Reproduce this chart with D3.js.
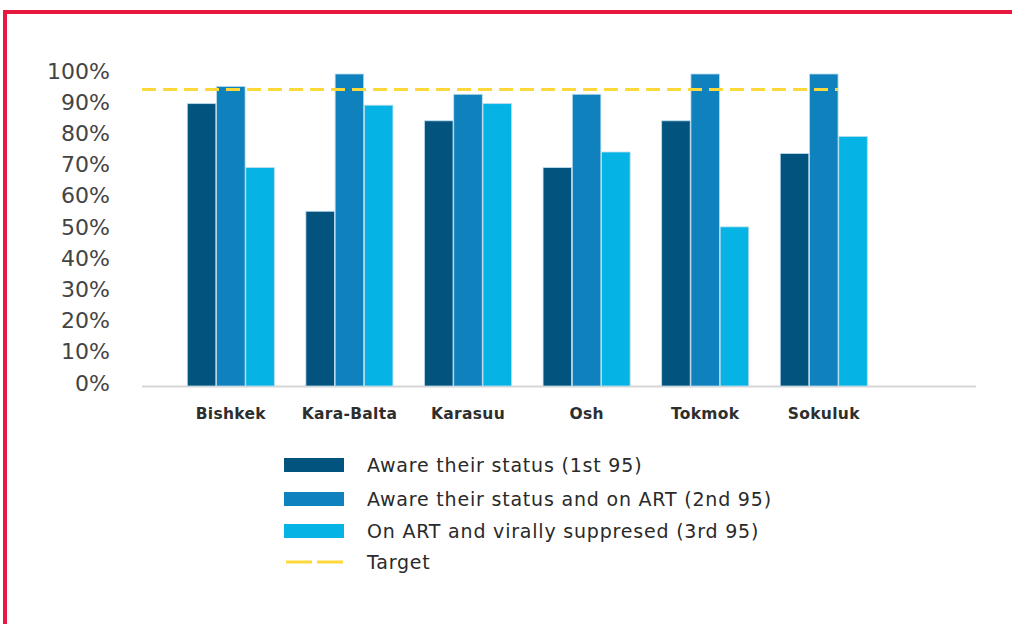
<!DOCTYPE html>
<html><head><meta charset="utf-8">
<script src="https://cdn.jsdelivr.net/npm/d3@7/dist/d3.min.js"></script>
<style>body{margin:0;background:#fff}svg{display:block}</style>
</head><body><svg id="c" width="1012" height="624"></svg>
<script>
const categories = ["Bishkek","Kara-Balta","Karasuu","Osh","Tokmok","Sokuluk"];
const seriesNames = ["Aware their status (1st 95)","Aware their status and on ART (2nd 95)","On ART and virally suppresed (3rd 95)"];
const first95  = [90.5, 56, 85, 70, 85, 74.5];
const second95 = [96, 100, 93.5, 93.5, 100, 100];
const third95  = [70, 90, 90.5, 75, 51, 80];
const target = 95;
const yTicks = [0,10,20,30,40,50,60,70,80,90,100];
const colors = ["#02547e","#0f82be","#05b4e5"];

const svg = d3.select("#c");
// frame
svg.append("rect").attr("x",5).attr("y",12).attr("width",1100).attr("height",700)
  .attr("fill","none").attr("stroke","#e8173f").attr("stroke-width",4);

const y = d3.scaleLinear().domain([0,100]).range([386,74]);
const x = d3.scaleBand().domain(categories).range([128,926.6]).paddingInner(0.266).paddingOuter(0.5);
const xs = d3.scaleBand().domain([0,1,2]).range([0,x.bandwidth()]).paddingInner(0.025);

const data = categories.map((c,i)=>({c, v:[first95[i],second95[i],third95[i]]}));

// baseline
svg.append("line").attr("x1",142).attr("x2",976).attr("y1",y(0)+0.5).attr("y2",y(0)+0.5)
  .attr("stroke","#d6d6d6").attr("stroke-width",2);

const g = svg.selectAll("g.grp").data(data).enter().append("g")
  .attr("transform",d=>`translate(${x(d.c)},0)`);
g.selectAll("rect").data(d=>d.v).enter().append("rect")
  .attr("x",(d,i)=>xs(i)).attr("width",xs.bandwidth())
  .attr("y",d=>y(d)).attr("height",d=>y(0)-y(d))
  .attr("fill",(d,i)=>colors[i]).attr("stroke","#bcdcee").attr("stroke-width",0.8);

// y axis labels
const yAxis = d3.axisLeft(y).tickValues(yTicks).tickFormat(d=>d+"%").tickSize(0).tickPadding(0);
const ya = svg.append("g").attr("transform","translate(110,-3)").call(yAxis);
ya.select(".domain").remove();
ya.selectAll("text").attr("font-family","DejaVu Sans").attr("font-size",22).attr("fill","#444");

// target line
svg.append("line").attr("x1",142).attr("x2",x("Sokuluk")+xs(1)+xs.bandwidth())
  .attr("y1",y(target)).attr("y2",y(target))
  .attr("stroke","#fdd83a").attr("stroke-width",3).attr("stroke-dasharray","14,7");

// x labels
const xAxis = d3.axisBottom(x).tickSize(0).tickPadding(0);
const xa = svg.append("g").attr("transform","translate(0,408)").call(xAxis);
xa.select(".domain").remove();
xa.selectAll("text").attr("font-family","DejaVu Sans").attr("font-weight","bold")
  .attr("font-size",15.5).attr("fill","#2e2e2e").attr("letter-spacing",0.3);

// legend
const leg = svg.append("g");
const rows = [465,499,531];
seriesNames.forEach((n,i)=>{
  leg.append("rect").attr("x",284).attr("y",rows[i]-7).attr("width",60).attr("height",14).attr("fill",colors[i]);
  leg.append("text").attr("x",367).attr("y",rows[i]).attr("dy","0.35em").text(n)
    .attr("font-family","DejaVu Sans").attr("font-size",19).attr("letter-spacing",0.8).attr("fill","#2a2a2a");
});
leg.append("line").attr("x1",286).attr("x2",343).attr("y1",562).attr("y2",562)
  .attr("stroke","#fdd83a").attr("stroke-width",3).attr("stroke-dasharray","26,5");
leg.append("text").attr("x",367).attr("y",562).attr("dy","0.35em").text("Target")
  .attr("font-family","DejaVu Sans").attr("font-size",19).attr("letter-spacing",0.8).attr("fill","#2a2a2a");
</script></body></html>
